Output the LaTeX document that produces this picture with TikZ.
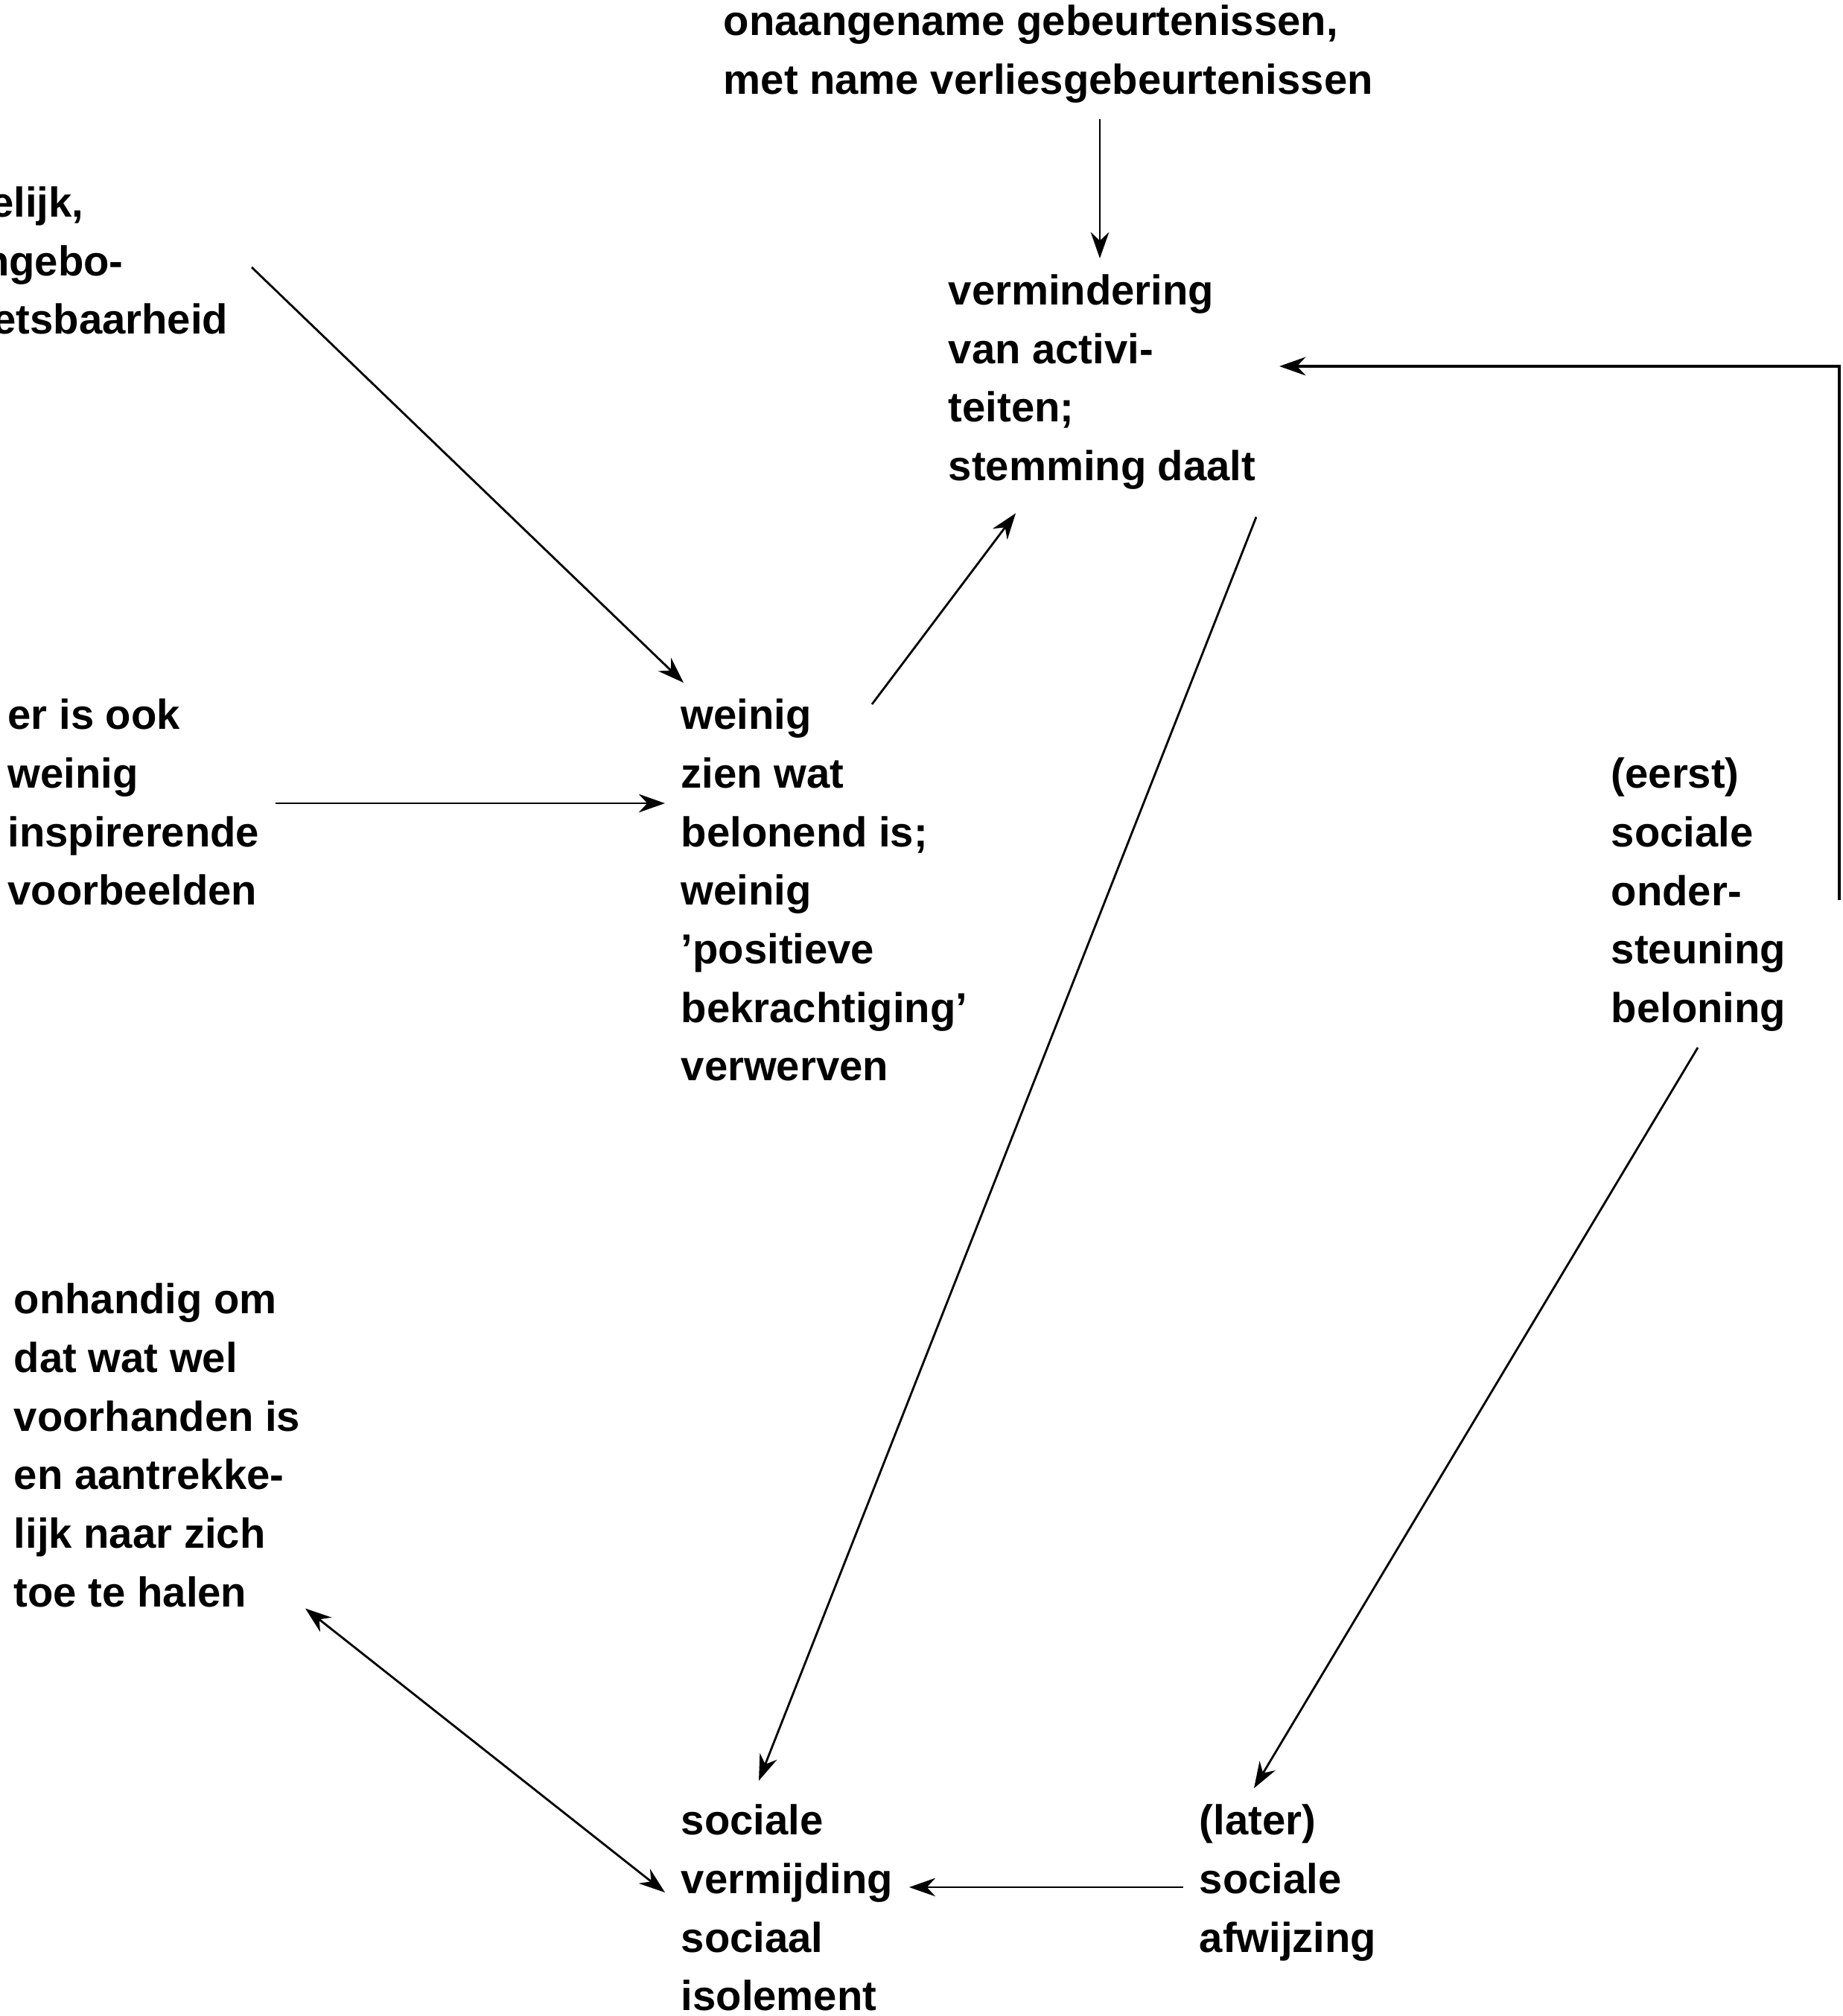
\documentclass[tikz,border=0pt]{standalone}
\usepackage{fontspec}
\setmainfont{Liberation Sans}
\usetikzlibrary{arrows.meta}
\tikzset{
  txt/.style={align=left, inner sep=6pt, font=\bfseries\fontsize{16}{22.4}\selectfont},
  pijl/.style={-{Stealth[length=10pt,width=7pt]}, line width=0.8pt},
}
\begin{document}
\begin{tikzpicture}
                \useasboundingbox (0,0) rectangle (24.75,-27.08);
                \node[txt, anchor=north west] (top) at (9.5,0.15) {onaangename gebeurtenissen,\\met name verliesgebeurtenissen};
                \node[txt, anchor=north west] (act) at (12.52,-3.47) {vermindering\\van activi-\\teiten;\\stemming daalt};
                \node[txt, anchor=north east] (erf) at (3.28,-2.29) {erfelijk,\\aangebo-\\kwetsbaarheid};
                \node[txt, anchor=north east] (vb) at (3.70,-9.17) {er is ook\\weinig\\inspirerende\\voorbeelden};
                \node[txt, anchor=north west] (zien) at (8.93,-9.17) {weinig\\zien wat\\belonend is;\\weinig\\'positieve\\bekrachtiging'\\verwerven};
                \node[txt, anchor=north west] (steun) at (21.42,-9.96) {(eerst)\\sociale\\onder-\\steuning\\beloning};
                \node[txt, anchor=north east] (onh) at (4.25,-17.02) {onhandig om\\dat wat wel\\voorhanden is\\en aantrekke-\\lijk naar zich\\toe te halen};
                \node[txt, anchor=north west] (verm) at (8.93,-24.02) {sociale\\vermijding\\sociaal\\isolement};
                \node[txt, anchor=north west] (afw) at (15.89,-24.02) {(later)\\sociale\\afwijzing};
                \draw[pijl] (top.south -| 14.77,0) -- (act.north -| 14.77,0);
                \draw[pijl] ([xshift=0.1cm,yshift=-1.3cm]erf.north east) -- ([xshift=0.25cm]zien.north west);
                \draw[pijl] (vb.east |- 0,-10.79) -- (zien.west |- 0,-10.79);
                \draw[pijl] ([xshift=2.78cm,yshift=-0.29cm]zien.north west) -- ([xshift=1.12cm,yshift=-0.1cm]act.south west);
                \draw[pijl] ([xshift=4.35cm,yshift=-0.15cm]act.south west) -- ([xshift=1.26cm,yshift=0.1cm]verm.north west);
                \draw[pijl, line width=1.4pt] (24.7,-12.09) |- ([xshift=0.1cm]act.east |- 0,-4.92);
                \draw[pijl] (steun.south -| 22.8,0) -- (afw.north -| 16.84,0);
                \draw[pijl] (afw.west |- 0,-25.35) -- (verm.east |- 0,-25.35);
                \draw[pijl, {Stealth[length=10pt,width=7pt]}-{Stealth[length=10pt,width=7pt]}] ([xshift=-0.15cm,yshift=0.2cm]onh.south east) -- (verm.west |- 0,-25.42);
\end{tikzpicture}
\end{document}
